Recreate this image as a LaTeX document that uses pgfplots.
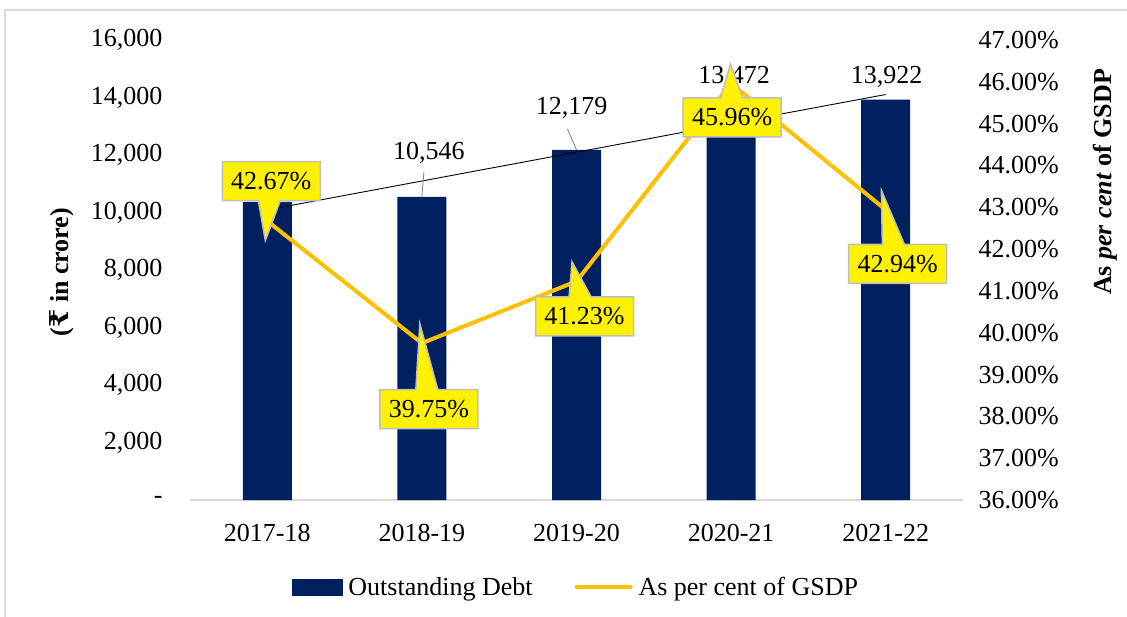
\documentclass[border=0pt]{standalone}
\usepackage{fontspec}
\setmainfont{Liberation Serif}
\newfontfamily\rupeefont{DejaVu Serif}
\usepackage{pgfplots}
\pgfplotsset{compat=1.18}
\usetikzlibrary{shapes.callouts}
\definecolor{navy}{HTML}{002060}
\definecolor{gold}{HTML}{FFC000}
\definecolor{framegray}{HTML}{D9D9D9}
\definecolor{callgray}{HTML}{BFBFBF}
\newcommand{\fs}{\fontsize{26}{31}\selectfont}
\tikzset{pct/.style={rectangle callout, fill=yellow, draw=callgray, line width=1.5pt,
  font=\fs, minimum width=98pt, minimum height=39pt, inner sep=2pt, callout pointer width=22pt}}
\begin{document}
\begin{tikzpicture}[x=1pt,y=1pt]
\useasboundingbox (0pt,0pt) rectangle (1127pt,-617pt);
\draw[framegray, line width=1.5pt] (5pt,-617pt) -- (5pt,-10pt) -- (1127pt,-10pt);
\begin{axis}[
  at={(190pt,-500pt)}, anchor=south west,
  scale only axis, width=773pt, height=460pt,
  xmin=0.5, xmax=5.5, ymin=0, ymax=16000,
  scaled y ticks=false,
  axis y line*=left, axis x line*=bottom,
  y axis line style={draw=none},
  x axis line style={draw=framegray, line width=1.2pt},
  xtick={1,2,3,4,5},
  xticklabels={2017-18,2018-19,2019-20,2020-21,2021-22},
  ytick={0,2000,4000,6000,8000,10000,12000,14000,16000},
  yticklabels={-,{2,000},{4,000},{6,000},{8,000},{10,000},{12,000},{14,000},{16,000}},
  major tick length=0pt,
  ticklabel style={font=\fs},
  yticklabel style={xshift=-24pt},
  xticklabel style={yshift=-21pt},
  clip=false,
]
\addplot[ybar, bar width=49pt, fill=navy, draw=none] coordinates {(1,10370) (2,10546) (3,12179) (4,13472) (5,13922)};
\addplot[black, line width=0.9pt] coordinates {(1,10092) (5,14104)};
\draw[gray, line width=0.8pt] (axis cs:2,10546) -- ++(2pt,25pt);
\draw[gray, line width=0.8pt] (axis cs:3,12179) -- ++(-9pt,21pt);
\draw[gray, line width=0.8pt] (axis cs:4,13472) -- ++(-1pt,16pt);
\node[font=\fs] at (axis cs:2,10546) [xshift=7pt, yshift=44pt] {10,546};
\node[font=\fs] at (axis cs:3,12179) [xshift=-5pt, yshift=42pt] {12,179};
\node[font=\fs] at (axis cs:4,13472) [xshift=3pt, yshift=36pt] {13,472};
\node[font=\fs] at (axis cs:5,13922) [xshift=1pt, yshift=23pt] {13,922};
\end{axis}
\begin{axis}[
  at={(190pt,-500pt)}, anchor=south west,
  scale only axis, width=773pt, height=460pt,
  xmin=0.5, xmax=5.5, ymin=36, ymax=47,
  axis y line*=right, axis x line=none,
  y axis line style={draw=none},
  ytick={36,37,38,39,40,41,42,43,44,45,46,47},
  yticklabels={36.00\%,37.00\%,38.00\%,39.00\%,40.00\%,41.00\%,42.00\%,43.00\%,44.00\%,45.00\%,46.00\%,47.00\%},
  major tick length=0pt,
  ticklabel style={font=\fs},
  yticklabel style={xshift=12pt},
  clip=false,
  legend style={at={(axis description cs:0.502,-0.189)}, anchor=center, draw=none, fill=none,
    legend columns=2, font=\fs, inner sep=0pt,
    nodes={inner xsep=6pt},
    /tikz/every even column/.append style={column sep=36pt}},
]
\addlegendimage{legend image code/.code={\fill[navy] (0pt,-8pt) rectangle (50pt,8pt);}}
\addlegendentry{Outstanding Debt}
\addplot[gold, line width=4pt, line join=round, legend image code/.code={\draw[gold, line width=4pt, line cap=round] (0pt,0pt) -- (54pt,0pt);}]
  coordinates {(1,42.67) (2,39.75) (3,41.23) (4,45.96) (5,42.94)};
\addlegendentry{As per cent of GSDP}
\node[pct, callout relative pointer={(-4pt,-40pt)}] at (axis cs:1,42.67) [xshift=4pt, yshift=40pt] {42.67\%};
\node[pct, callout relative pointer={(-7pt,66pt)}] at (axis cs:2,39.75) [xshift=7pt, yshift=-66pt] {39.75\%};
\node[pct, callout relative pointer={(-8pt,35pt)}] at (axis cs:3,41.23) [xshift=8pt, yshift=-35pt] {41.23\%};
\node[pct, callout relative pointer={(-1pt,34pt)}] at (axis cs:4,45.96) [xshift=1pt, yshift=-34pt] {45.96\%};
\node[pct, callout relative pointer={(-12pt,54pt)}] at (axis cs:5,42.94) [xshift=12pt, yshift=-54pt] {42.94\%};
\end{axis}
\node[rotate=90, font=\fs\bfseries] at (62pt,-272pt) {({\rupeefont\bfseries ₹} in crore)};
\node[rotate=90, font=\fs\bfseries] at (1105pt,-182pt) {As \textit{per cent} of GSDP};
\end{tikzpicture}
\end{document}
